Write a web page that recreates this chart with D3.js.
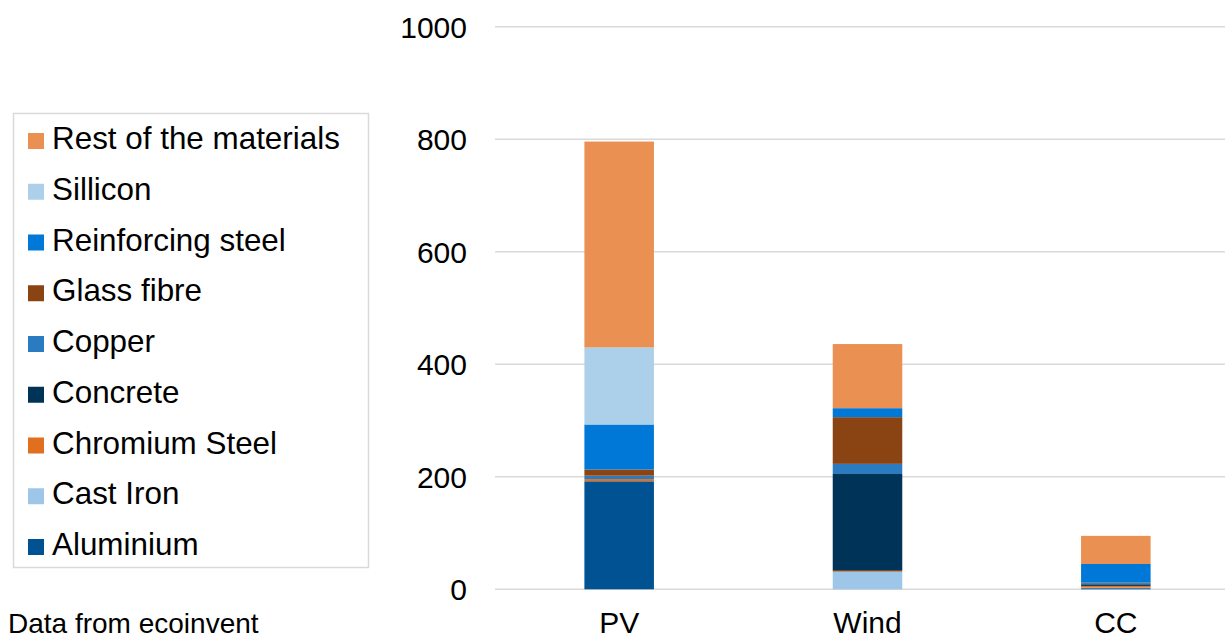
<!DOCTYPE html>
<html>
<head>
<meta charset="utf-8">
<script src="https://cdn.jsdelivr.net/npm/d3@7/dist/d3.min.js"></script>
<style>
  html, body { margin: 0; padding: 0; background: #fff; }
  svg { display: block; font-family: "Liberation Sans", Arial, sans-serif; }
</style>
</head>
<body>
<svg id="chart" width="1225" height="640"></svg>
<script>
// Technologies on the x axis
const categories = ["PV", "Wind", "CC"];

// Materials, stacked bottom to top
const materials = [
  "Aluminium", "Cast Iron", "Chromium Steel", "Concrete", "Copper",
  "Glass fibre", "Reinforcing steel", "Sillicon", "Rest of the materials"
];

// Amount per material, one value per technology (PV, Wind, CC)
const aluminium        = [192, 0, 2];
const castIron         = [0, 31, 1];
const chromiumSteel    = [4, 2, 3];
const concrete         = [0, 172, 3];
const copper           = [6, 18, 2];
const glassFibre       = [11, 83, 1];
const reinforcingSteel = [80, 16, 33];
const sillicon         = [137, 0, 0];
const restOfMaterials  = [366, 114, 50];

const seriesValues = [
  aluminium, castIron, chromiumSteel, concrete, copper,
  glassFibre, reinforcingSteel, sillicon, restOfMaterials
];

const colors = [
  "#005293", "#9DC6E8", "#E07020", "#003358", "#2A7BBF",
  "#8A4413", "#0078D7", "#ADD0EA", "#E99052"
];

const yTicks = [0, 200, 400, 600, 800, 1000];

// Table for d3.stack: one row per technology
const table = categories.map((c, i) => {
  const row = { category: c };
  materials.forEach((m, k) => { row[m] = seriesValues[k][i]; });
  return row;
});

const svg = d3.select("#chart");

const x = d3.scaleBand()
  .domain(categories)
  .range([495, 1240])
  .paddingInner(0.72)
  .paddingOuter(0.36);

const y = d3.scaleLinear()
  .domain([0, 1000])
  .range([589.3, 26.8]);

// Horizontal gridlines
svg.append("g")
  .selectAll("line")
  .data(yTicks)
  .join("line")
  .attr("x1", 495)
  .attr("x2", 1225)
  .attr("y1", d => y(d))
  .attr("y2", d => y(d))
  .attr("stroke", "#d9d9d9")
  .attr("stroke-width", 1.5);

// Y axis tick labels
const yAxis = d3.axisLeft(y)
  .tickValues(yTicks)
  .tickFormat(d3.format("d"))
  .tickSize(0)
  .tickPadding(0);
svg.append("g")
  .attr("transform", "translate(467,0)")
  .call(yAxis)
  .call(g => g.select(".domain").remove())
  .call(g => g.selectAll("text")
    .attr("font-size", 30)
    .attr("font-family", "Liberation Sans, Arial, sans-serif")
    .attr("fill", "#000")
    .attr("dy", "0.35em"));

// Stacked bars
const stack = d3.stack().keys(materials);
const layers = stack(table);

svg.append("g")
  .selectAll("g")
  .data(layers)
  .join("g")
  .attr("fill", (d, i) => colors[i])
  .selectAll("rect")
  .data(d => d)
  .join("rect")
  .attr("x", d => x(d.data.category))
  .attr("width", x.bandwidth())
  .attr("y", d => y(d[1]))
  .attr("height", d => Math.max(0, y(d[0]) - y(d[1])));

// Category labels
const xAxis = d3.axisBottom(x).tickSize(0).tickPadding(0);
svg.append("g")
  .attr("transform", "translate(0,633)")
  .call(xAxis)
  .call(g => g.select(".domain").remove())
  .call(g => g.selectAll("text")
    .attr("font-size", 30)
    .attr("font-family", "Liberation Sans, Arial, sans-serif")
    .attr("fill", "#000")
    .attr("dy", 0)
    .attr("y", 0));

// Legend, listed top to bottom in reverse stack order
const legend = svg.append("g");
legend.append("rect")
  .attr("x", 13.5)
  .attr("y", 113.5)
  .attr("width", 355)
  .attr("height", 454)
  .attr("fill", "#fff")
  .attr("stroke", "#d9d9d9")
  .attr("stroke-width", 1.5);

const legendItems = materials.map((m, i) => ({ name: m, color: colors[i] })).reverse();
const rows = legend.selectAll("g.item")
  .data(legendItems)
  .join("g")
  .attr("class", "item")
  .attr("transform", (d, i) => `translate(0,${149 + i * 50.75})`);

rows.append("rect")
  .attr("x", 28)
  .attr("y", -16)
  .attr("width", 16)
  .attr("height", 16)
  .attr("fill", d => d.color);

rows.append("text")
  .attr("x", 52)
  .attr("y", 0)
  .attr("font-size", 31.4)
  .attr("fill", "#000")
  .text(d => d.name);

// Source note
svg.append("text")
  .attr("x", 8)
  .attr("y", 633)
  .attr("font-size", 28)
  .attr("fill", "#000")
  .text("Data from ecoinvent");
</script>
</body>
</html>
